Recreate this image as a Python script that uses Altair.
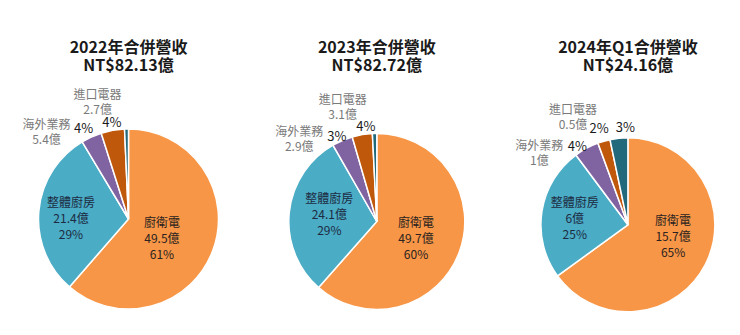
import altair as alt
import pandas as pd

# ---------------- data ----------------
categories = ["廚衛電", "整體廚房", "海外業務", "進口電器", "其他"]
slice_colors = ["#F79646", "#4BACC6", "#8064A2", "#C0580C", "#22697B"]

title_line1 = ["2022年合併營收", "2023年合併營收", "2024年Q1合併營收"]
title_line2 = ["NT$82.13億", "NT$82.72億", "NT$24.16億"]

# share of the circle taken by each slice (%)
share_2022 = [61.4, 30.0, 3.7, 4.2, 0.7]
share_2023 = [61.5, 30.2, 3.8, 3.7, 0.8]
share_2024 = [65.0, 24.8, 4.6, 2.3, 3.3]

# revenue (億) and percentage as printed on the labels
revenue_2022 = [49.5, 21.4, 5.4, 2.7, None]
revenue_2023 = [49.7, 24.1, 2.9, 3.1, None]
revenue_2024 = [15.7, 6, 1, 0.5, None]

pct_2022 = [61, 29, 4, 4, None]
pct_2023 = [60, 29, 3, 4, None]
pct_2024 = [65, 25, 4, 2, 3]

FONT = "Noto Sans CJK TC"
THETA_SCALE = alt.Scale(domain=[0, 100])


def make_df(share, revenue, pct):
    rows = []
    for i, cat in enumerate(categories):
        rev = revenue[i]
        p = pct[i]
        rev_txt = "" if rev is None else f"{rev:g}億"
        pct_txt = "" if p is None else f"{p}%"
        rows.append({
            "idx": i,
            "cat": cat,
            "share": share[i],
            "inner": f"{cat}\n{rev_txt}\n{pct_txt}",
            "name": f"{cat}\n{rev_txt}",
            "pct": pct_txt,
        })
    return pd.DataFrame(rows)


# ---------------- layout / styling (not data) ----------------
INNER_LH = 16
NAME_LH = 15

layouts = [
    dict(width=211, height=194, radius=90, title_offset=15,
         inner={0: (-11.5, 2.9), 1: (-9.7, 3.9)},
         pct={2: (-5, -1.8), 3: (0.3, -0.8)},
         name={2: (-33.4, 21.4), 3: (-10.3, 0)}),
    dict(width=285.6, height=199, radius=88, title_offset=19.5,
         inner={0: (-5.7, 0.8), 1: (0.3, -1.3)},
         pct={2: (-1.9, 5.1), 3: (5.2, 1.2)},
         name={2: (-31.4, 26.6), 3: (-14.6, 1.9)}),
    dict(width=215.8, height=205.6, radius=87, title_offset=30.5,
         inner={0: (2.4, -9.6), 1: (-5.7, 1.1)},
         pct={2: (-4.4, 7.5), 3: (-2.1, -2.3), 4: (7.6, -0.3)},
         name={2: (-32.4, 32.3), 3: (-22.3, 6.4)}),
]

inner_colors = {0: "#2a2320", 1: "#1c2b42"}


def pie(df, lay, t1, t2):
    base = alt.Chart(df)
    arc = base.mark_arc(outerRadius=lay["radius"], stroke="white", strokeWidth=1.5).encode(
        theta=alt.Theta("share:Q", stack=True, scale=THETA_SCALE),
        color=alt.Color("cat:N", scale=alt.Scale(domain=categories, range=slice_colors), legend=None),
        order=alt.Order("idx:Q", sort="ascending"),
    )
    lbase = base.transform_window(
        cum="sum(share)", sort=[alt.SortField("idx", order="ascending")], frame=[None, 0]
    ).transform_calculate(mid="datum.cum - datum.share / 2")

    layers = [arc]

    def txt(i, field, radius, off, size, color, nlines, lh):
        # multi-line text starts at the anchor: shift up so the block is centred
        dy = off[1] - (nlines - 1) * lh / 2
        return lbase.transform_filter(alt.datum.idx == i).mark_text(
            radius=radius, dx=off[0], dy=dy, fontSize=size, color=color,
            font=FONT, lineBreak="\n", lineHeight=lh, align="center", baseline="middle",
        ).encode(
            theta=alt.Theta("mid:Q", stack=False, scale=THETA_SCALE),
            text=alt.Text(f"{field}:N"),
        )

    for i, off in lay["inner"].items():
        layers.append(txt(i, "inner", 48, off, 12, inner_colors[i], 3, INNER_LH))
    for i, off in lay["pct"].items():
        layers.append(txt(i, "pct", 97, off, 13, "#1a1a1a", 1, NAME_LH))
    for i, off in lay["name"].items():
        layers.append(txt(i, "name", 118, off, 12, "#7a7a7a", 2, NAME_LH))

    return alt.layer(*layers).properties(
        width=lay["width"], height=lay["height"],
        title=alt.TitleParams(
            text=[t1, t2], fontSize=16, fontWeight="bold", font=FONT, color="#1a1a1a",
            anchor="middle", frame="group", offset=lay["title_offset"], lineHeight=18,
        ),
    )


dfs = [
    make_df(share_2022, revenue_2022, pct_2022),
    make_df(share_2023, revenue_2023, pct_2023),
    make_df(share_2024, revenue_2024, pct_2024),
]

panels = [pie(dfs[k], layouts[k], title_line1[k], title_line2[k]) for k in range(3)]

chart = alt.hconcat(*panels, spacing=0, bounds="flush").properties(
    padding={"left": 22, "top": 39, "right": 3, "bottom": 3},
    background="white",
).configure_view(strokeWidth=0)

chart.save("out.html", embed_options={"renderer": "svg", "actions": False})
